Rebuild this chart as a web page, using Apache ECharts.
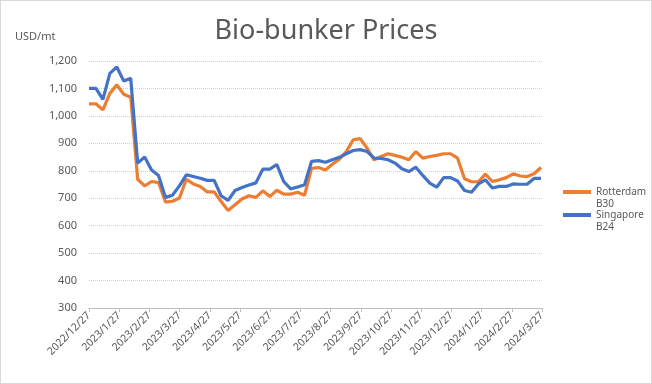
<!DOCTYPE html>
<html>
<head>
<meta charset="utf-8">
<script src="https://cdn.jsdelivr.net/npm/echarts@6/dist/echarts.min.js"></script>
<style>
html,body{margin:0;padding:0;background:#fff;}
#c{width:650px;height:382px;border:1px solid #d9d9d9;}
</style>
</head>
<body>
<div id="c"></div>
<script>
const monthLabels = ['2022/12/27','2023/1/27','2023/2/27','2023/3/27','2023/4/27','2023/5/27','2023/6/27','2023/7/27','2023/8/27','2023/9/27','2023/10/27','2023/11/27','2023/12/27','2024/1/27','2024/2/27','2024/3/27'];
const firstWeek = '2022-12-27';
const weekCount = 66;
const rotterdamB30 = [1044,1044,1022,1082,1113,1079,1068,769,745,761,757,686,689,701,769,752,743,723,723,688,655,676,697,709,703,727,706,729,715,715,722,711,809,812,803,824,842,870,913,917,882,840,852,862,856,849,840,870,846,852,856,862,862,846,771,760,760,788,761,767,775,789,781,779,789,812];
const singaporeB24 = [1100,1100,1060,1155,1178,1127,1137,828,850,803,783,703,711,745,785,779,773,765,765,709,692,728,739,748,756,806,806,823,761,734,741,749,834,837,831,840,849,862,874,877,870,846,845,840,828,807,797,813,783,755,740,775,775,763,728,722,752,767,737,743,743,752,751,751,772,772];
const seriesNames = ['Rotterdam B30','Singapore B24'];
const yTicks = {min:300, max:1200, step:100};

function weekDates(){
  const out=[]; const d0=new Date(firstWeek+'T00:00:00');
  for(let i=0;i<weekCount;i++){const d=new Date(d0.getTime()+i*7*86400000);
    out.push(d.getFullYear()+'-'+String(d.getMonth()+1).padStart(2,'0')+'-'+String(d.getDate()).padStart(2,'0'));}
  return out;
}
const dates = weekDates();
const pairs = arr => arr.map((v,i)=>[dates[i],v]);

const chart = echarts.init(document.getElementById('c'));
const txt = '#595959';
const legendBase = {orient:'vertical',left:557,itemWidth:28,itemHeight:4,icon:'rect',
    formatter:n=>'\n'+n.replace(' ','\n'),
    textStyle:{fontFamily:'Noto Sans',fontSize:10,color:txt,lineHeight:12}};
chart.setOption({
  animation:false,
  title:{text:'Bio-bunker Prices',left:'center',top:12,textStyle:{fontFamily:'Noto Sans',fontSize:27,fontWeight:'normal',color:txt}},
  graphic:[{type:'text',left:14,top:30,style:{text:'USD/mt',font:'11px "Noto Sans"',fill:txt}}],
  grid:{left:88,right:109,top:60,bottom:75},
  legend:[
    Object.assign({},legendBase,{top:168,data:[seriesNames[0]]}),
    Object.assign({},legendBase,{top:191,data:[seriesNames[1]]})
  ],
  xAxis:[
    {type:'category',data:monthLabels,boundaryGap:false,
     axisLine:{lineStyle:{color:'#bfbfbf'}},axisTick:{lineStyle:{color:'#bfbfbf'},length:4},
     axisLabel:{rotate:45,fontFamily:'Noto Sans',fontSize:10.5,color:txt,margin:6,interval:0}},
    {type:'time',min:firstWeek,max:'2024-03-27',show:false}
  ],
  yAxis:{type:'value',min:yTicks.min,max:yTicks.max,interval:yTicks.step,
    axisLine:{show:false},axisTick:{show:false},
    splitLine:{lineStyle:{color:'#d0d0d0',type:'dotted',width:1}},
    axisLabel:{fontFamily:'Noto Sans',fontSize:11,color:txt,margin:12,formatter:v=>v.toLocaleString('en-US')}},
  series:[
    {name:seriesNames[0],type:'line',xAxisIndex:1,data:pairs(rotterdamB30),showSymbol:false,
     lineStyle:{width:3.2,color:'#ED7D31'},itemStyle:{color:'#ED7D31'}},
    {name:seriesNames[1],type:'line',xAxisIndex:1,data:pairs(singaporeB24),showSymbol:false,
     lineStyle:{width:3.2,color:'#4472C4'},itemStyle:{color:'#4472C4'}}
  ]
});
</script>
</body>
</html>
